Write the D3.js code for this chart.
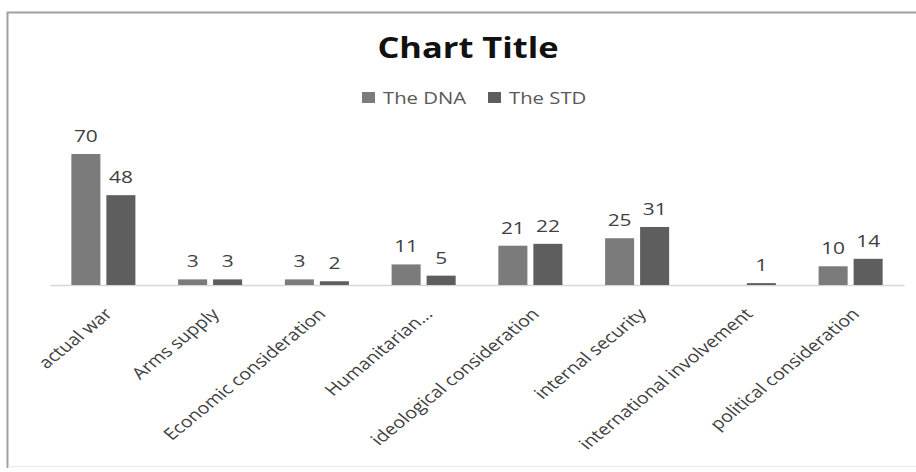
<!DOCTYPE html>
<html>
<head>
<meta charset="utf-8">
<script src="https://cdn.jsdelivr.net/npm/d3@7"></script>
<style>
  html, body { margin: 0; padding: 0; background: #fff; }
  svg { display: block; }
  text { font-family: "Open Sans", "DejaVu Sans", sans-serif; }
</style>
</head>
<body>
<svg id="chart" width="916" height="472"></svg>
<script>
const categories = ["actual war", "Arms supply", "Economic consideration", "Humanitarian...",
  "ideological consideration", "internal security", "international involvement", "political consideration"];
const seriesNames = ["The DNA", "The STD"];
const dnaValues = [70, 3, 3, 11, 21, 25, null, 10];
const stdValues = [48, 3, 2, 5, 22, 31, 1, 14];
const seriesColors = ["#7b7b7b", "#5e5e5e"];
const chartTitle = "Chart Title";

const svg = d3.select("#chart");
const W = 916, H = 472;
const SX = 1.23; // horizontal stretch of the reference picture's text

// frame
svg.append("line").attr("x1", 7.5).attr("x2", 7.5).attr("y1", 12).attr("y2", 468)
  .attr("stroke", "#a0a0a0").attr("stroke-width", 2);
svg.append("line").attr("x1", 7).attr("x2", W).attr("y1", 12.5).attr("y2", 12.5)
  .attr("stroke", "#a0a0a0").attr("stroke-width", 2);
svg.append("line").attr("x1", 8).attr("x2", W).attr("y1", 466.5).attr("y2", 466.5)
  .attr("stroke", "#ececec").attr("stroke-width", 1);

const plot = { left: 50, right: 904, base: 285 };

const x0 = d3.scaleBand().domain(categories).range([plot.left, plot.right]).padding(0);
const x1 = d3.scaleBand().domain(seriesNames).range([0, x0.bandwidth()])
  .paddingInner(0.171).paddingOuter(0.61);
const y = d3.scaleLinear().domain([0, 80]).range([plot.base, plot.base - 80 * 131 / 70]);

const rows = categories.map((c, i) => ({
  cat: c,
  vals: [
    { s: seriesNames[0], v: dnaValues[i], color: seriesColors[0] },
    { s: seriesNames[1], v: stdValues[i], color: seriesColors[1] }
  ]
}));

// axis
const axis = d3.axisBottom(x0).tickSize(0).tickPadding(0);
const gAxis = svg.append("g").attr("transform", `translate(0,${plot.base})`).call(axis);
gAxis.select(".domain").attr("stroke", "#d6d6d6").attr("stroke-width", 1.5);
gAxis.selectAll(".tick text")
  .attr("x", 0).attr("y", 0).attr("dy", null)
  .attr("text-anchor", "end")
  .attr("transform", `translate(10,30) scale(${SX},1) rotate(-45)`)
  .attr("fill", "#404040")
  .style("font-size", "16px")
  .style("font-family", '"Open Sans", sans-serif');

// bars
const gCat = svg.append("g").selectAll("g").data(rows).join("g")
  .attr("transform", d => `translate(${x0(d.cat)},0)`);

gCat.selectAll("rect").data(d => d.vals.filter(v => v.v != null)).join("rect")
  .attr("x", d => x1(d.s))
  .attr("width", x1.bandwidth())
  .attr("y", d => y(d.v))
  .attr("height", d => y(0) - y(d.v))
  .attr("fill", d => d.color);

gCat.selectAll("text.lbl").data(d => d.vals.filter(v => v.v != null)).join("text")
  .attr("class", "lbl")
  .attr("text-anchor", "middle")
  .attr("transform", d => `translate(${x1(d.s) + x1.bandwidth() / 2},${y(d.v) - 12}) scale(${SX},1)`)
  .attr("fill", "#404040")
  .style("font-size", "17px")
  .text(d => d.v);

// title
svg.append("text")
  .attr("transform", `translate(468,58) scale(${SX},1)`)
  .attr("text-anchor", "middle")
  .attr("fill", "#111")
  .style("font-size", "28px")
  .style("font-weight", "700")
  .text(chartTitle);

// legend
const legendX = [362, 488];
const lg = svg.append("g").selectAll("g").data(seriesNames).join("g")
  .attr("transform", (d, i) => `translate(${legendX[i]},92)`);
lg.append("rect").attr("width", 13).attr("height", 11).attr("y", 0)
  .attr("fill", (d, i) => seriesColors[i]);
lg.append("text")
  .attr("transform", `translate(21,11.5) scale(${SX},1)`)
  .attr("fill", "#595959")
  .style("font-size", "16.5px")
  .text(d => d);
</script>
</body>
</html>
